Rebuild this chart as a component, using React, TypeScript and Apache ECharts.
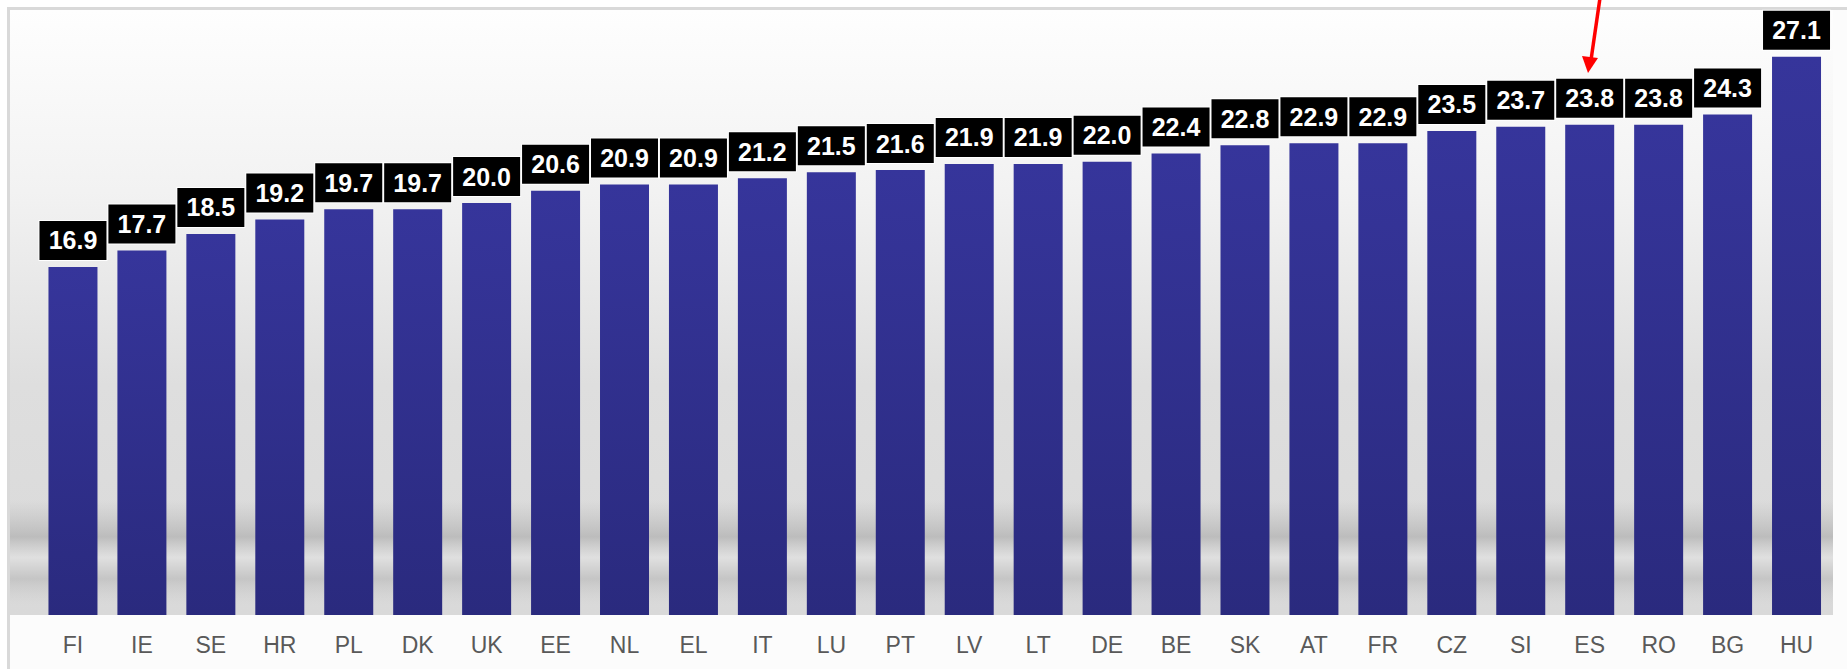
import React, { useEffect, useRef } from "react";
import * as echarts from "echarts";

const categories = ["FI", "IE", "SE", "HR", "PL", "DK", "UK", "EE", "NL", "EL", "IT", "LU", "PT", "LV", "LT", "DE", "BE", "SK", "AT", "FR", "CZ", "SI", "ES", "RO", "BG", "HU"];
const values = [16.9, 17.7, 18.5, 19.2, 19.7, 19.7, 20.0, 20.6, 20.9, 20.9, 21.2, 21.5, 21.6, 21.9, 21.9, 22.0, 22.4, 22.8, 22.9, 22.9, 23.5, 23.7, 23.8, 23.8, 24.3, 27.1];

export default function App() {
  const ref = useRef<HTMLDivElement>(null);
  useEffect(() => {
    if (!ref.current) return;
    const chart = echarts.init(ref.current, null, { renderer: "svg" });
    chart.setOption({
      animation: false,
      backgroundColor: "#ffffff",
      grid: { left: 38.5, right: 16, top: 30, bottom: 54 },
      xAxis: {
        type: "category",
        data: categories,
        axisLine: { show: false },
        axisTick: { show: false },
        axisLabel: {
          interval: 0,
          color: "#595959",
          fontSize: 23,
          fontFamily: "Arial, 'Liberation Sans', sans-serif",
          margin: 18,
        },
      },
      yAxis: {
        type: "value",
        min: 0,
        max: 28.4,
        show: false,
        splitLine: { show: false },
      },
      graphic: {
        elements: [
          {
            type: "rect",
            z: -10,
            shape: { x: 8.5, y: 8.5, width: 1860, height: 700 },
            style: { fill: "#fcfcfc", stroke: "#d9d9d9", lineWidth: 3 },
          },
          {
            type: "rect",
            z: -9,
            shape: { x: 10, y: 10, width: 1823, height: 605 },
            style: {
              fill: new echarts.graphic.LinearGradient(0, 0, 0, 1, [
                { offset: 0, color: "#fefefe" },
                { offset: 0.3, color: "#f2f2f2" },
                { offset: 0.62, color: "#dedede" },
                { offset: 1, color: "#d9d9d9" },
              ]),
            },
          },
          {
            type: "rect",
            z: -8,
            shape: { x: 10, y: 500, width: 1823, height: 105 },
            style: {
              fill: new echarts.graphic.LinearGradient(0, 0, 0, 1, [
                { offset: 0, color: "rgba(185,185,185,0)" },
                { offset: 0.35, color: "rgba(175,175,175,0.7)" },
                { offset: 0.55, color: "rgba(228,228,228,0.55)" },
                { offset: 0.75, color: "rgba(180,180,180,0.55)" },
                { offset: 1, color: "rgba(200,200,200,0)" },
              ]),
            },
          },
          {
            type: "line",
            z: 100,
            shape: { x1: 1600, y1: -2, x2: 1591, y2: 60 },
            style: { stroke: "#ff0000", lineWidth: 3.5 },
          },
          {
            type: "polygon",
            z: 100,
            shape: { points: [[1582, 56], [1598, 58], [1588, 73]] },
            style: { fill: "#ff0000" },
          },
        ],
      },
      series: [
        {
          type: "bar",
          data: values,
          barWidth: 49,
          itemStyle: {
            color: new echarts.graphic.LinearGradient(0, 0, 0, 1, [
              { offset: 0, color: "#36359b" },
              { offset: 1, color: "#2a2a7e" },
            ]),
          },
          label: {
            show: true,
            position: "top",
            distance: 7,
            formatter: (p: any) => Number(p.value).toFixed(1),
            color: "#ffffff",
            fontWeight: "bold",
            fontSize: 25,
            lineHeight: 25,
            fontFamily: "Arial, 'Liberation Sans', sans-serif",
            backgroundColor: "#000000",
            borderColor: "#ffffff",
            borderWidth: 1,
            padding: [7, 1],
            width: 65,
            align: "center",
          },
        },
      ],
    });
    return () => chart.dispose();
  }, []);
  return (
    <div
      ref={ref}
      style={{ position: "fixed", left: 0, top: 0, width: 1847, height: 669 }}
    />
  );
}
